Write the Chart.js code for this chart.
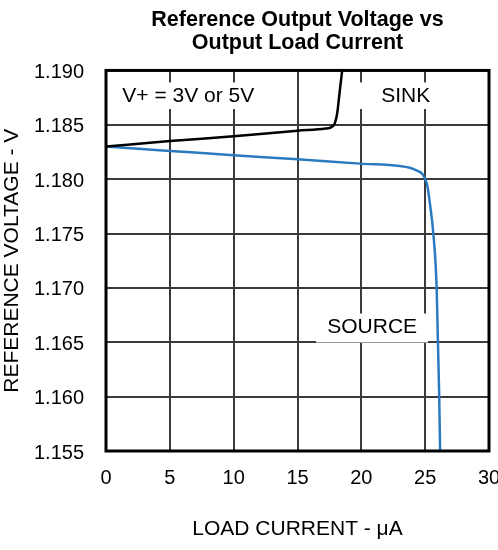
<!DOCTYPE html>
<html>
<head>
<meta charset="utf-8">
<script src="https://cdn.jsdelivr.net/npm/chart.js@4"></script>
<style>
  html, body { margin: 0; padding: 0; background: #fff; }
  #wrap { width: 498px; height: 550px; }
</style>
</head>
<body>
<div id="wrap"><canvas id="chart" width="498" height="550"></canvas></div>
<script>
// sink curve (black)
const sinkCurrent = [0, 5, 10, 15, 17.2, 17.8, 18.1, 18.3, 18.5];
const sinkVoltage = [1.1830, 1.1835, 1.18395, 1.18445, 1.18465, 1.1849, 1.1860, 1.1880, 1.1900];

// source curve (blue)
const sourceCurrent = [0, 5, 10, 15, 19.9, 23.0, 23.8, 24.4, 24.8, 25.0, 25.15, 25.4, 25.64, 25.9, 26.0, 26.1, 26.17];
const sourceVoltage = [1.1830, 1.1826, 1.1822, 1.18183, 1.18143, 1.18122, 1.18105, 1.18076, 1.18046, 1.1800, 1.1795, 1.1775, 1.1750, 1.1700, 1.1650, 1.1600, 1.1550];

const xTicks = [0, 5, 10, 15, 20, 25, 30];
const yTicks = [1.155, 1.160, 1.165, 1.170, 1.175, 1.180, 1.185, 1.190];

const FONT = "'Liberation Sans', Arial, sans-serif";

const toPoints = (xs, ys) => xs.map((x, i) => ({ x: x, y: ys[i] }));

// text labels with white boxes behind them (data coordinates)
const notes = [
    { text: 'V+ = 3V or 5V', x: 1.28, y: 1.18764, align: 'left', box: [0.5, 11.9, 1.1889, 1.18645] },
    { text: 'SINK', x: 23.47, y: 1.18764, align: 'center', box: [19.67, 26.33, 1.1889, 1.18645] },
    { text: 'SOURCE', x: 20.85, y: 1.16636, align: 'center', box: [16.46, 25.23, 1.16764, 1.16498] }
];

const notesPlugin = {
    id: 'notes',
    beforeDatasetsDraw(chart) {
        const { ctx, scales: { x, y } } = chart;
        ctx.save();
        notes.forEach(n => {
            const bx1 = x.getPixelForValue(n.box[0]);
            const bx2 = x.getPixelForValue(n.box[1]);
            const by1 = y.getPixelForValue(n.box[2]);
            const by2 = y.getPixelForValue(n.box[3]);
            ctx.fillStyle = '#fff';
            ctx.fillRect(bx1, by1, bx2 - bx1, by2 - by1);
            ctx.fillStyle = '#000';
            ctx.font = '21px ' + FONT;
            ctx.textAlign = n.align;
            ctx.textBaseline = 'middle';
            ctx.fillText(n.text, x.getPixelForValue(n.x), y.getPixelForValue(n.y));
        });
        ctx.restore();
    },
    afterDatasetsDraw(chart) {
        const { ctx, chartArea: a } = chart;
        ctx.save();
        ctx.strokeStyle = '#000';
        ctx.lineWidth = 3;
        ctx.strokeRect(a.left, a.top, a.right - a.left, a.bottom - a.top);
        ctx.restore();
    }
};

new Chart(document.getElementById('chart'), {
    type: 'scatter',
    data: {
        datasets: [{
            label: 'SINK',
            data: toPoints(sinkCurrent, sinkVoltage),
            showLine: true,
            borderColor: '#000',
            borderWidth: 2.5,
            pointRadius: 0,
            cubicInterpolationMode: 'monotone'
        }, {
            label: 'SOURCE',
            data: toPoints(sourceCurrent, sourceVoltage),
            showLine: true,
            borderColor: '#2a7ac0',
            borderWidth: 2.5,
            pointRadius: 0,
            cubicInterpolationMode: 'monotone'
        }]
    },
    options: {
        responsive: false,
        animation: false,
        layout: { padding: { left: 0, right: 9, top: 0, bottom: 0 } },
        plugins: {
            legend: { display: false },
            tooltip: { enabled: false },
            title: {
                display: true,
                fullSize: false,
                text: ['Reference Output Voltage vs', 'Output Load Current'],
                color: '#000',
                font: { family: FONT, size: 21.5, weight: 'bold', lineHeight: 1.08 },
                padding: { top: 8, bottom: 16 }
            }
        },
        scales: {
            x: {
                type: 'linear',
                min: 0,
                max: 30,
                afterBuildTicks: s => { s.ticks = xTicks.map(v => ({ value: v })); },
                afterFit: s => { s.height = 99; s.paddingLeft = 0; s.paddingRight = 0; },
                grid: { color: '#3a3a3a', lineWidth: 2, drawTicks: false },
                border: { display: false },
                ticks: {
                    color: '#000',
                    padding: 15,
                    font: { family: FONT, size: 20 }
                },
                title: {
                    display: true,
                    text: 'LOAD CURRENT - μA',
                    color: '#000',
                    font: { family: FONT, size: 21 },
                    padding: { top: 0, bottom: 8 }
                }
            },
            y: {
                type: 'linear',
                min: 1.155,
                max: 1.190,
                afterBuildTicks: s => { s.ticks = yTicks.map(v => ({ value: v })); },
                afterFit: s => { s.width = 106; s.paddingTop = 0; s.paddingBottom = 0; },
                grid: { color: '#3a3a3a', lineWidth: 2, drawTicks: false },
                border: { display: false },
                ticks: {
                    color: '#000',
                    padding: 22,
                    labelOffset: 2,
                    font: { family: FONT, size: 20 },
                    callback: v => v.toFixed(3)
                },
                title: {
                    display: true,
                    text: 'REFERENCE VOLTAGE - V',
                    color: '#000',
                    font: { family: FONT, size: 21 },
                    padding: { top: 0, bottom: 0 }
                }
            }
        }
    },
    plugins: [notesPlugin]
});
</script>
</body>
</html>
